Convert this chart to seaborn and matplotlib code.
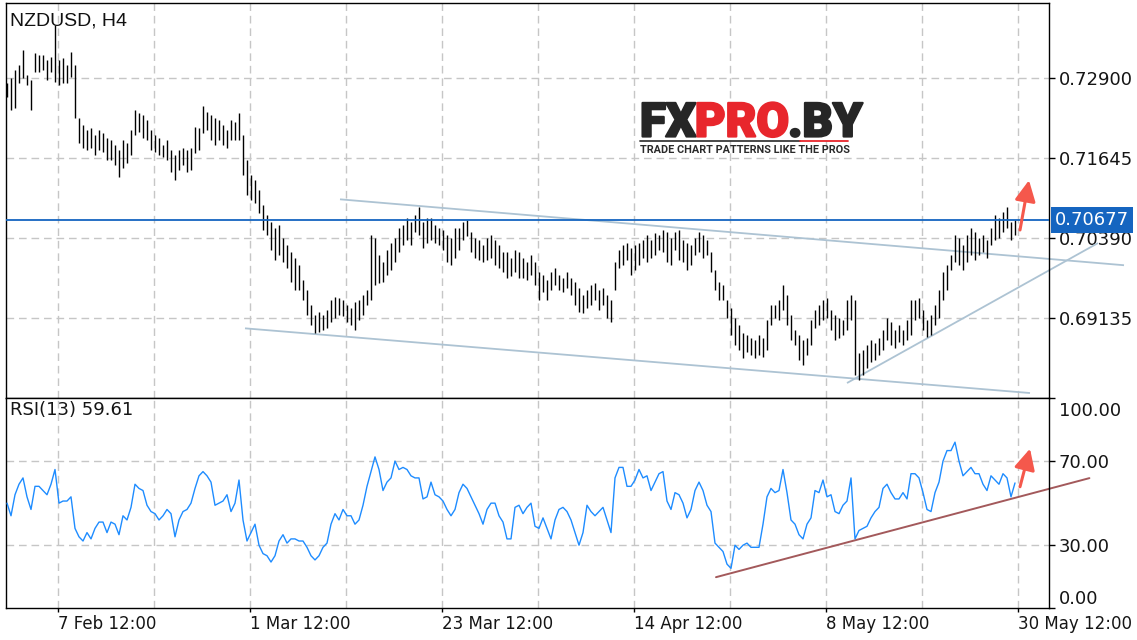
import numpy as np
import pandas as pd
import matplotlib
matplotlib.use("Agg")
import matplotlib.pyplot as plt
import matplotlib.transforms as mtransforms
import matplotlib.patheffects as pe
from matplotlib.lines import Line2D
import seaborn as sns

# ---------------- data ----------------
SYMBOL = "NZDUSD, H4"
RSI_LABEL = "RSI(13) 59.61"

# bar highs / lows in pips (price * 10000), one bar every two H4 candles
HIGH_PIPS = [
    7283, 7290, 7303, 7311, 7334, 7295, 7287, 7330, 7327, 7327,
    7319, 7323, 7374, 7319, 7322, 7311, 7331, 7311, 7228, 7217,
    7209, 7212, 7201, 7209, 7204, 7196, 7193, 7185, 7177, 7193,
    7188, 7209, 7240, 7236, 7232, 7225, 7209, 7201, 7196, 7185,
    7193, 7177, 7170, 7177, 7181, 7177, 7181, 7213, 7212, 7246,
    7237, 7232, 7228, 7225, 7217, 7209, 7225, 7221, 7236, 7201,
    7162, 7138, 7130, 7115, 7091, 7075, 7064, 7055, 7060, 7039,
    7028, 7017, 7008, 6997, 6973, 6958, 6934, 6919, 6923, 6919,
    6926, 6942, 6947, 6945, 6942, 6934, 6930, 6939, 6942, 6950,
    6958, 7044, 7039, 7013, 7002, 7020, 7031, 7039, 7055, 7060,
    7071, 7064, 7075, 7088, 7064, 7071, 7071, 7060, 7055, 7052,
    7044, 7039, 7055, 7055, 7064, 7067, 7049, 7039, 7036, 7028,
    7039, 7044, 7036, 7028, 7017, 7017, 7008, 7020, 7017, 7008,
    7002, 7013, 7002, 6986, 6981, 6973, 6986, 6992, 6981, 6977,
    6986, 6977, 6970, 6961, 6950, 6958, 6966, 6969, 6958, 6961,
    6950, 6942, 7002, 7020, 7028, 7031, 7024, 7028, 7031, 7036,
    7044, 7036, 7047, 7044, 7052, 7049, 7039, 7049, 7052, 7036,
    7031, 7028, 7039, 7049, 7044, 7036, 7017, 6989, 6970, 6966,
    6942, 6930, 6914, 6903, 6890, 6887, 6883, 6879, 6887, 6883,
    6911, 6934, 6934, 6942, 6966, 6950, 6919, 6895, 6887, 6879,
    6883, 6911, 6926, 6934, 6942, 6945, 6926, 6919, 6914, 6911,
    6942, 6950, 6942, 6859, 6864, 6872, 6879, 6875, 6883, 6895,
    6914, 6908, 6895, 6903, 6895, 6911, 6942, 6942, 6945, 6926,
    6911, 6919, 6934, 6958, 6986, 6997, 7013, 7044, 7039, 7028,
    7044, 7055, 7049, 7039, 7044, 7036, 7055, 7075, 7071, 7080,
    7088, 7064, 7067,
]
LOW_PIPS = [
    7261, 7240, 7243, 7283, 7290, 7279, 7240, 7300, 7300, 7303,
    7287, 7300, 7284, 7279, 7283, 7283, 7292, 7228, 7188, 7181,
    7177, 7181, 7170, 7177, 7174, 7162, 7162, 7154, 7135, 7149,
    7157, 7170, 7201, 7206, 7196, 7193, 7177, 7174, 7170, 7166,
    7162, 7143, 7130, 7146, 7154, 7143, 7146, 7173, 7177, 7204,
    7209, 7193, 7185, 7193, 7185, 7181, 7193, 7193, 7193, 7138,
    7107, 7099, 7094, 7079, 7052, 7044, 7021, 7005, 7013, 7002,
    6992, 6970, 6958, 6958, 6942, 6919, 6903, 6890, 6892, 6895,
    6898, 6908, 6914, 6919, 6917, 6908, 6903, 6895, 6911, 6919,
    6934, 6942, 6966, 6969, 6970, 6981, 6989, 7002, 7017, 7028,
    7036, 7028, 7049, 7044, 7024, 7032, 7036, 7032, 7028, 7021,
    7002, 6997, 7008, 7021, 7036, 7042, 7017, 7008, 7005, 7002,
    7005, 7008, 6997, 6992, 6986, 6977, 6980, 6986, 6977, 6977,
    6973, 6981, 6966, 6942, 6955, 6942, 6958, 6966, 6958, 6955,
    6961, 6950, 6934, 6923, 6922, 6930, 6934, 6942, 6926, 6934,
    6914, 6908, 6958, 6992, 6997, 7005, 6981, 6989, 6997, 7008,
    7002, 7008, 7013, 7020, 7017, 7002, 6997, 7020, 7005, 7002,
    6989, 6997, 7013, 7017, 7008, 7013, 6986, 6958, 6942, 6942,
    6914, 6887, 6872, 6864, 6851, 6861, 6856, 6851, 6856, 6853,
    6864, 6903, 6914, 6911, 6926, 6903, 6879, 6872, 6848, 6840,
    6856, 6872, 6898, 6903, 6911, 6914, 6895, 6879, 6883, 6887,
    6895, 6911, 6824, 6817, 6824, 6836, 6845, 6848, 6856, 6864,
    6879, 6872, 6867, 6876, 6872, 6879, 6887, 6911, 6914, 6895,
    6884, 6887, 6903, 6914, 6942, 6958, 6989, 7002, 6997, 6989,
    7002, 7013, 7005, 7013, 7017, 7008, 7028, 7036, 7039, 7049,
    7055, 7036, 7044,
]
RSI_13 = [
    50, 44, 54, 59, 62, 53, 47, 58, 58, 56,
    54, 59, 66, 50, 51, 51, 53, 38, 34, 32,
    36, 33, 38, 41, 41, 36, 41, 40, 35, 44,
    42, 48, 59, 57, 56, 49, 46, 45, 42, 44,
    47, 45, 34, 42, 46, 47, 50, 57, 63, 65,
    63, 60, 49, 50, 51, 54, 46, 50, 61, 42,
    32, 36, 40, 30, 26, 25, 22, 25, 32, 35,
    31, 33, 33, 32, 32, 29, 25, 23, 25, 29,
    31, 40, 45, 42, 47, 44, 44, 40, 42, 49,
    58, 65, 72, 66, 56, 60, 62, 70, 66, 67,
    66, 63, 62, 62, 52, 53, 60, 54, 53, 51,
    47, 44, 47, 55, 59, 57, 53, 49, 45, 40,
    47, 50, 50, 44, 41, 33, 33, 48, 49, 45,
    48, 50, 39, 38, 43, 38, 33, 42, 47, 48,
    46, 42, 36, 30, 36, 49, 46, 44, 46, 48,
    42, 36, 62, 67, 67, 58, 58, 61, 66, 62,
    63, 56, 60, 64, 65, 51, 47, 55, 54, 50,
    43, 47, 56, 60, 56, 49, 46, 31, 29, 27,
    21, 19, 30, 28, 30, 31, 29, 29, 29, 40,
    53, 57, 55, 56, 66, 55, 42, 40, 35, 33,
    40, 43, 56, 55, 61, 53, 54, 46, 45, 49,
    51, 62, 33, 37, 38, 39, 43, 46, 48, 57,
    59, 55, 52, 52, 55, 52, 64, 64, 62, 55,
    47, 46, 55, 60, 70, 75, 75, 79, 70, 63,
    65, 67, 64, 64, 59, 56, 63, 61, 59, 64,
    62, 53, 59.61,
]

DATE_TICK_LABELS = ["7 Feb 12:00", "1 Mar 12:00", "23 Mar 12:00",
                    "14 Apr 12:00", "8 May 12:00", "30 May 12:00"]
DATE_TICK_BARS = [12.75, 60.75, 108.75, 156.75, 204.75, 252.75]
HALF_TICK_BARS = [36.75, 84.75, 132.75, 180.75, 228.75]
PRICE_TICKS = [0.72900, 0.71645, 0.70390, 0.69135]
LAST_PRICE = 0.70677
RSI_TICKS = [0, 30, 70, 100]
RSI_GRID = [30, 70]

# drawn analysis objects (bar index, value)
CHANNEL_UPPER_X = [83.25, 279.25]
CHANNEL_UPPER_Y = [0.71001, 0.69967]
CHANNEL_LOWER_X = [59.5, 255.75]
CHANNEL_LOWER_Y = [0.68977, 0.67962]
SUPPORT_X = [210.0, 272.75]
SUPPORT_Y = [0.68119, 0.70315]
RSI_TREND_X = [177.25, 270.6]
RSI_TREND_Y = [14.8, 61.9]
PRICE_ARROW = [(253.25, 0.7052), (255.5, 0.7130)]
RSI_ARROW = [(253.25, 57.8), (255.75, 75.9)]

# ---------------- figure ----------------
sns.set_theme(style="white")
plt.rcParams["font.family"] = ["DejaVu Sans"]

W, H = 1137, 640
fig = plt.figure(figsize=(W / 100, H / 100), dpi=100)
fig.patch.set_facecolor("white")

df = pd.DataFrame({
    "bar": np.arange(len(HIGH_PIPS)),
    "high": np.array(HIGH_PIPS) / 1e4,
    "low": np.array(LOW_PIPS) / 1e4,
    "rsi": RSI_13,
})

left = 5.5 / W
width = (1049 - 5.5) / W
ax1 = fig.add_axes([left, 1 - 398 / H, width, (398 - 3) / H])
ax2 = fig.add_axes([left, 1 - 608.3 / H, width, (608.3 - 398) / H])

XLIM = (-0.375, 260.5)
GRID_KW = dict(color="#c6c6c6", lw=1.0, dashes=(5.5, 3.5), zorder=0)
grid_bars = sorted(DATE_TICK_BARS + HALF_TICK_BARS)

for ax in (ax1, ax2):
    ax.set_facecolor("white")
    ax.set_xlim(*XLIM)
    for s in ax.spines.values():
        s.set_visible(True)
        s.set_color("black")
        s.set_linewidth(1.0)
    for gx in grid_bars:
        ax.axvline(gx, **GRID_KW)

# price panel
ax1.set_ylim(0.67884, 0.74081)
for gy in PRICE_TICKS:
    ax1.axhline(gy, **GRID_KW)
ax1.vlines(df["bar"], df["low"], df["high"], color="black", lw=1.0, zorder=3)
ax1.axhline(LAST_PRICE, color="#1565c0", lw=1.3, zorder=4)

line_kw = dict(color="#adc3d3", lw=1.3, zorder=2, clip_on=False, solid_capstyle="butt")
ax1.plot(CHANNEL_UPPER_X, CHANNEL_UPPER_Y, **line_kw)
ax1.plot(CHANNEL_LOWER_X, CHANNEL_LOWER_Y, **line_kw)
ax1.plot(SUPPORT_X, SUPPORT_Y, **line_kw)

ax1.yaxis.tick_right()
ax1.set_yticks(PRICE_TICKS)
ax1.set_yticklabels([f"{v:.5f}" for v in PRICE_TICKS])
ax1.set_xticks([])
ax1.tick_params(axis="y", which="both", right=True, length=4, width=1,
                color="black", labelsize=13, labelcolor="#151515", pad=3)

trans1 = mtransforms.blended_transform_factory(ax1.transAxes, ax1.transData)
ax1.text(1.0057, LAST_PRICE, f"{LAST_PRICE:.5f}", transform=trans1,
         ha="left", va="center", color="white", fontsize=13, zorder=10,
         clip_on=False,
         bbox=dict(boxstyle="square,pad=0.22", fc="#1565c0", ec="none"))

ax1.annotate("", xy=PRICE_ARROW[1], xytext=PRICE_ARROW[0],
             arrowprops=dict(arrowstyle="-|>,head_width=0.45,head_length=0.9",
                             color="#f5584c", lw=2.2, mutation_scale=14,
                             shrinkA=0, shrinkB=0),
             annotation_clip=False, zorder=6)

ax1.text(0.0045, 0.955, SYMBOL, transform=ax1.transAxes, ha="left", va="center",
         fontsize=14, color="#111111", family=["Liberation Sans", "DejaVu Sans"])

# RSI panel
ax2.set_ylim(0, 100)
for gy in RSI_GRID:
    ax2.axhline(gy, **GRID_KW)
sns.lineplot(data=df, x="bar", y="rsi", ax=ax2, color="#1e8cff", lw=1.0,
             zorder=3, legend=False)
ax2.plot(RSI_TREND_X, RSI_TREND_Y, color="#a3595b", lw=1.4, zorder=2, clip_on=False)
ax2.annotate("", xy=RSI_ARROW[1], xytext=RSI_ARROW[0],
             arrowprops=dict(arrowstyle="-|>,head_width=0.45,head_length=0.9",
                             color="#f5584c", lw=2.2, mutation_scale=14,
                             shrinkA=0, shrinkB=0),
             annotation_clip=False, zorder=6)
ax2.set_xlabel("")
ax2.set_ylabel("")
ax2.set_xlim(*XLIM)

ax2.yaxis.tick_right()
ax2.set_yticks(RSI_TICKS)
ax2.set_yticklabels([f"{v:.2f}" for v in RSI_TICKS])
ax2.tick_params(axis="y", right=True, length=4, width=1, color="black",
                labelsize=13, labelcolor="#151515", pad=3)
for lbl in ax2.get_yticklabels():
    if lbl.get_text() == "100.00":
        lbl.set_verticalalignment("top")
        lbl.set_transform(lbl.get_transform() +
                          mtransforms.ScaledTranslation(0, -4 / 100, fig.dpi_scale_trans))
    elif lbl.get_text() == "0.00":
        lbl.set_verticalalignment("bottom")

ax2.set_xticks(DATE_TICK_BARS)
ax2.set_xticklabels(DATE_TICK_LABELS, ha="left")
ax2.tick_params(axis="x", bottom=True, length=3, width=1, color="black",
                labelsize=12, labelcolor="#151515", pad=2)

ax2.text(0.004, 0.945, RSI_LABEL, transform=ax2.transAxes, ha="left", va="center",
         fontsize=13, color="#151515")

# ---------------- watermark logo ----------------
renderer = fig.canvas.get_renderer()
x_px = 640.0
logo_parts = [("FX", "#262626"), ("PRO", "#e8262c"), (".BY", "#262626")]
for txt, col in logo_parts:
    t = fig.text(x_px / W, 1 - 136.5 / H, txt, ha="left", va="baseline",
                 fontsize=34, fontweight="black", color=col,
                 family=["Roboto", "DejaVu Sans"],
                 path_effects=[pe.withStroke(linewidth=1.6, foreground=col)])
    bb = t.get_window_extent(renderer)
    x_px = bb.x1 - 1
fig.text(640 / W, 1 - 153 / H, "TRADE CHART PATTERNS LIKE THE PROS",
         ha="left", va="baseline", fontsize=7.8, fontweight="bold",
         color="#2a2a2a", family=["Roboto", "DejaVu Sans"])
fig.add_artist(Line2D([640 / W, 800 / W], [1 - 141 / H] * 2, color="#3a3a3a", lw=1.3))
fig.add_artist(Line2D([800 / W, 848 / W], [1 - 141 / H] * 2, color="#e8262c", lw=1.3))

fig.savefig("out.png", dpi=100, facecolor="white")
